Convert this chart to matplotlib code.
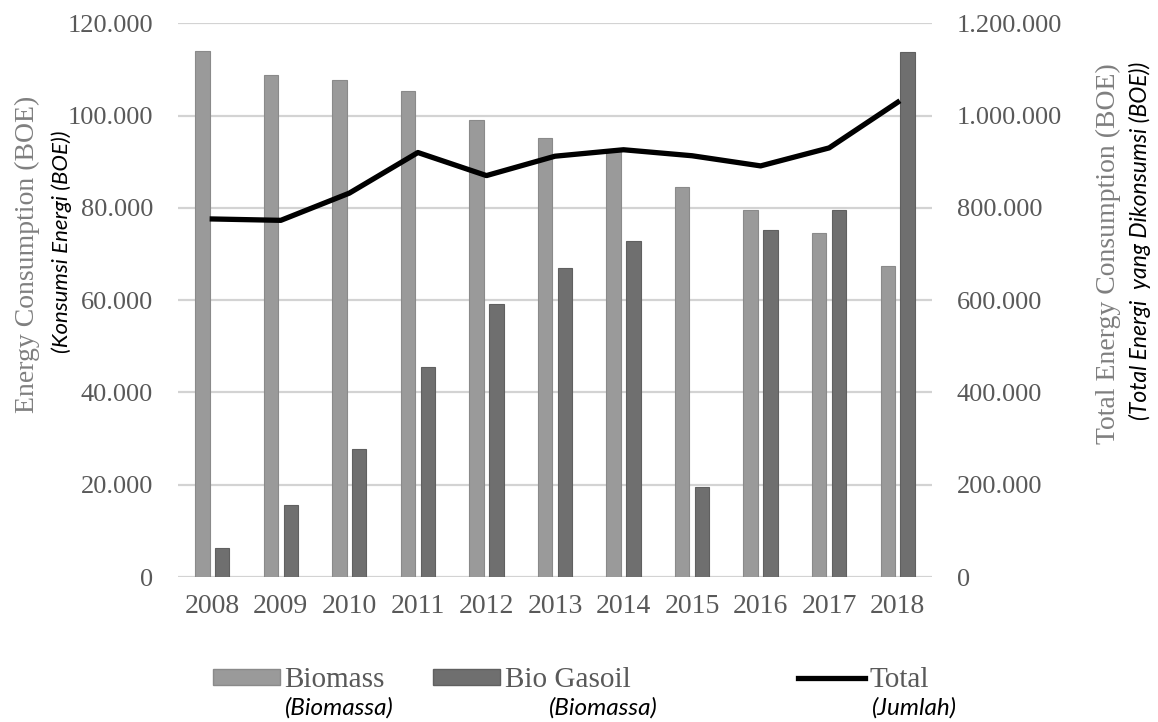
import matplotlib.pyplot as plt
import numpy as np
from matplotlib.ticker import FuncFormatter
from matplotlib.patches import Patch
from matplotlib.lines import Line2D

# -----------------------------
# Data
# -----------------------------
years = ["2008", "2009", "2010", "2011", "2012", "2013",
         "2014", "2015", "2016", "2017", "2018"]
biomass = [114000, 108700, 107700, 105300, 99000, 95200,
           92500, 84500, 79500, 74600, 67500]
bio_gasoil = [6200, 15600, 27800, 45600, 59200, 67000,
              72900, 19500, 75300, 79500, 113700]
total = [776000, 773000, 832000, 920000, 870000, 912000,
         926000, 913000, 891000, 930000, 1029000]

serif = "Liberation Serif"
italic_font = "Lato"
grey_txt = "#595959"
c_bio = "#9a9a9a"
c_gas = "#6f6f6f"


def dot_fmt(v, pos):
    return f"{v:,.0f}".replace(",", ".")


# -----------------------------
# Figure
# -----------------------------
fig = plt.figure(figsize=(11.58, 7.22), dpi=100)
ax = fig.add_axes([0.1537, 0.2008, 0.6511, 0.7669])
ax2 = ax.twinx()

x = np.arange(len(years))
w = 0.21
ax.bar(x - 0.145, biomass, w, color=c_bio, edgecolor="#8a8a8a", linewidth=0.8)
ax.bar(x + 0.145, bio_gasoil, w, color=c_gas, edgecolor="#606060", linewidth=0.8)

ax2.plot(x, total, color="black", linewidth=3.8, solid_joinstyle="round")

ax.set_xlim(-0.5, len(years) - 0.5)
ax.set_ylim(0, 120000)
ax2.set_ylim(0, 1200000)
ax.set_yticks(np.arange(0, 120001, 20000))
ax2.set_yticks(np.arange(0, 1200001, 200000))
ax.yaxis.set_major_formatter(FuncFormatter(dot_fmt))
ax2.yaxis.set_major_formatter(FuncFormatter(dot_fmt))
ax.set_xticks(x)
ax.set_xticklabels(years)

ax.set_axisbelow(True)
ax.grid(axis="y", color="#d3d3d3", linewidth=1.6)
for a in (ax, ax2):
    for s in a.spines.values():
        s.set_visible(False)
    a.tick_params(length=0, colors=grey_txt)
    for lbl in a.get_yticklabels():
        lbl.set_fontfamily(serif)
        lbl.set_fontsize(19)
for lbl in ax.get_xticklabels():
    lbl.set_fontfamily(serif)
    lbl.set_fontsize(20)
ax.tick_params(axis="x", pad=12)
ax.tick_params(axis="y", pad=18)
ax2.tick_params(axis="y", pad=18)

# axis titles
fig.text(0.024, 0.647, "Energy Consumption (BOE)", rotation=90, ha="center", va="center",
         fontsize=20, family=serif, color="#7f7f7f")
fig.text(0.053, 0.665, "(Konsumsi Energi (BOE))", rotation=90, ha="center", va="center",
         fontsize=16, family=italic_font, style="italic", color="black")
fig.text(0.957, 0.649, "Total Energy Consumption (BOE)", rotation=90, ha="center", va="center",
         fontsize=20, family=serif, color="#7f7f7f")
fig.text(0.984, 0.667, "(Total Energi  yang Dikonsumsi (BOE))", rotation=90, ha="center", va="center",
         fontsize=16.5, family=italic_font, style="italic", color="black")

# -----------------------------
# Legend
# -----------------------------
entries = [
    (Patch(facecolor=c_bio, edgecolor="#8a8a8a"), "Biomass", 0.184),
    (Patch(facecolor=c_gas, edgecolor="#606060"), "Bio Gasoil", 0.374),
    (Line2D([0], [0], color="black", linewidth=3.8), "Total", 0.689),
]
for handle, label, xpos in entries:
    leg = fig.legend(handles=[handle], labels=[label], frameon=False,
                     loc="center left", bbox_to_anchor=(xpos, 0.058),
                     borderpad=0, borderaxespad=0,
                     handlelength=2.3, handleheight=0.45, handletextpad=0.15,
                     prop={"family": serif, "size": 21})
    for t in leg.get_texts():
        t.set_color(grey_txt)

for xpos, s in [(0.246, "(Biomassa)"), (0.474, "(Biomassa)"), (0.753, "(Jumlah)")]:
    fig.text(xpos, 0.019, s, ha="left", va="center", fontsize=17.5,
             family=italic_font, style="italic", color="black")

fig.savefig("out.png", dpi=100)
